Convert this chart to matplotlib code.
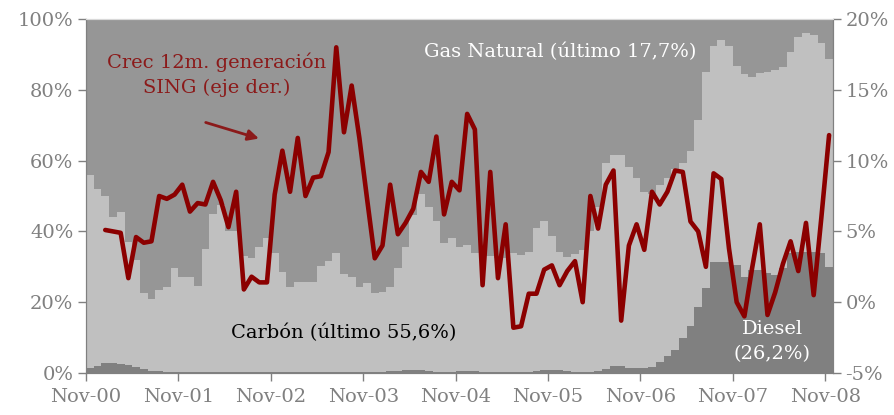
import numpy as np
import matplotlib
matplotlib.use("Agg")
from matplotlib import pyplot as plt

# monthly shares (% of generation), Nov-00 .. Nov-08
diesel = [1.3, 2.0, 2.9, 2.9, 2.6, 2.2, 1.6, 1.0, 0.6, 0.5, 0.4, 0.4,
          0.3, 0.3, 0.3, 0.4, 0.4, 0.3, 0.3, 0.3, 0.4, 0.4, 0.3, 0.3,
          0.3, 0.3, 0.3, 0.4, 0.4, 0.3, 0.3, 0.3, 0.4, 0.4, 0.3, 0.3,
          0.3, 0.3, 0.4, 0.5, 0.6, 0.8, 0.9, 0.8, 0.5, 0.4, 0.3, 0.3,
          0.5, 0.6, 0.6, 0.4, 0.3, 0.3, 0.3, 0.3, 0.3, 0.4, 0.5, 0.8,
          0.9, 0.8, 0.5, 0.4, 0.3, 0.4, 0.6, 1.1, 2.0, 2.1, 1.5, 1.3,
          1.3, 1.6, 3.2, 4.9, 6.5, 9.8, 13.4, 18.7, 24.1, 31.4, 31.4, 31.4,
          30.5, 27.2, 29.1, 29.1, 28.2, 27.7, 29.6, 33.8, 34.1, 34.1, 34.1, 33.8,
          30.0]
carbon = [54.7, 50.0, 47.1, 41.1, 42.9, 34.8, 30.4, 21.5, 20.4, 22.9, 24.0, 29.2,
          26.9, 26.7, 24.4, 34.6, 44.6, 47.2, 39.7, 39.7, 32.6, 32.1, 35.2, 37.7,
          33.7, 28.3, 24.1, 25.4, 25.4, 25.5, 30.0, 31.3, 33.6, 27.6, 26.9, 23.9,
          25.2, 22.2, 22.6, 23.9, 29.0, 34.7, 43.7, 49.8, 46.5, 42.6, 36.3, 37.9,
          35.0, 35.6, 33.4, 32.6, 32.7, 32.2, 32.2, 33.7, 33.0, 33.9, 40.4, 42.1,
          37.9, 33.3, 32.2, 33.1, 34.4, 39.6, 46.4, 58.3, 59.6, 59.5, 56.8, 53.7,
          49.9, 48.9, 49.9, 50.3, 51.1, 49.4, 49.3, 52.8, 61.0, 61.1, 62.6, 61.1,
          56.3, 57.3, 54.4, 55.6, 56.9, 57.9, 56.9, 57.0, 60.9, 61.9, 61.4, 59.3,
          58.6]
gas = [44.0, 48.0, 50.0, 56.0, 54.5, 63.0, 68.0, 77.5, 79.0, 76.6, 75.6, 70.4,
       72.8, 73.0, 75.3, 65.0, 55.0, 52.5, 60.0, 60.0, 67.0, 67.5, 64.5, 62.0,
       66.0, 71.4, 75.6, 74.2, 74.2, 74.2, 69.7, 68.4, 66.0, 72.0, 72.8, 75.8,
       74.5, 77.5, 77.0, 75.6, 70.4, 64.5, 55.4, 49.4, 53.0, 57.0, 63.4, 61.8,
       64.5, 63.8, 66.0, 67.0, 67.0, 67.5, 67.5, 66.0, 66.7, 65.7, 59.1, 57.1,
       61.2, 65.9, 67.3, 66.5, 65.3, 60.0, 53.0, 40.6, 38.4, 38.4, 41.7, 45.0,
       48.8, 49.5, 46.9, 44.8, 42.4, 40.8, 37.3, 28.5, 14.9, 7.5, 6.0, 7.5,
       13.2, 15.5, 16.5, 15.3, 14.9, 14.4, 13.5, 9.2, 5.0, 4.0, 4.5, 6.9,
       11.4]
# 12-month growth of SING generation (%), Jan-01 .. Nov-08
growth = [5.1, 5.0, 4.9, 1.7, 4.6, 4.2, 4.3, 7.5, 7.3, 7.6,
          8.3, 6.4, 7.0, 6.9, 8.5, 7.2, 5.3, 7.8, 0.9, 1.8, 1.4, 1.4,
          7.6, 10.7, 7.8, 11.6, 7.5, 8.8, 8.9, 10.6, 18.0, 12.0, 15.3, 11.6,
          7.3, 3.1, 4.0, 8.3, 4.8, 5.6, 6.6, 9.2, 8.5, 11.7, 6.2, 8.5,
          7.9, 13.3, 12.2, 1.2, 9.2, 1.7, 5.5, -1.8, -1.7, 0.6, 0.6, 2.3,
          2.6, 1.2, 2.2, 2.9, 0.0, 7.5, 5.2, 8.3, 9.3, -1.3, 4.0, 5.5,
          3.7, 7.8, 6.9, 7.8, 9.3, 9.2, 5.7, 5.0, 2.5, 9.1, 8.7, 3.8,
          0.0, -1.0, 2.4, 5.5, -0.9, 0.7, 2.7, 4.3, 2.2, 5.6, 0.5, 6.0,
          11.8]
tick_labels = ["Nov-00", "Nov-01", "Nov-02", "Nov-03", "Nov-04",
               "Nov-05", "Nov-06", "Nov-07", "Nov-08"]

plt.rcParams['font.family'] = ['DejaVu Serif']
grey = '#808080'

n = len(diesel)
x = np.arange(n)
d = np.array(diesel)
c = np.array(carbon)

fig = plt.figure(figsize=(8.94, 4.15), dpi=100)
ax = fig.add_axes([0.0962, 0.1012, 0.8355, 0.853])

ax.bar(x, diesel, width=1.0, align='edge', color='#808080', linewidth=0)
ax.bar(x, carbon, width=1.0, align='edge', bottom=d, color='#c0c0c0', linewidth=0)
ax.bar(x, gas, width=1.0, align='edge', bottom=d + c, color='#969696', linewidth=0)

ax.set_xlim(0, n)
ax.set_ylim(0, 100)
ax.set_yticks(range(0, 101, 20))
ax.set_yticklabels([f"{v}%" for v in range(0, 101, 20)])
ax.set_xticks(range(0, n, 12))
ax.set_xticklabels(tick_labels)

ax2 = ax.twinx()
gx = np.arange(n - len(growth), n) + 0.5
ax2.plot(gx, growth, color='#8b0000', lw=3.3, solid_joinstyle='round', solid_capstyle='round')
ax2.set_ylim(-5, 20)
ax2.set_yticks(range(-5, 21, 5))
ax2.set_yticklabels([f"{v}%" for v in range(-5, 21, 5)])

for a in (ax, ax2):
    for s in ('left', 'right', 'bottom'):
        a.spines[s].set_color(grey)
    a.spines['top'].set_color('#d9d9d9')
    a.tick_params(colors=grey, labelcolor=grey, labelsize=14, length=6, width=1, pad=3)
ax.tick_params(axis='x', pad=5)

ax.text(61.6, 90.7, "Gas Natural (último 17,7%)", color='white', fontsize=14,
        ha='center', va='center')
ax.text(33.4, 11.2, "Carbón (último 55,6%)", color='black', fontsize=14,
        ha='center', va='center')
ax.text(89.1, 9.0, "Diesel\n(26,2%)", color='white', fontsize=14,
        ha='center', va='center', linespacing=1.5)
ax.text(17.0, 84.3, "Crec 12m. generación\nSING (eje der.)", color='#8b1a1a',
        fontsize=14, ha='center', va='center', linespacing=1.45)
ax.annotate("", xy=(22.8, 66.0), xytext=(15.2, 71.0),
            arrowprops=dict(arrowstyle='-|>', color='#8b1a1a', lw=2, mutation_scale=16))

plt.savefig('out.png', dpi=100)
